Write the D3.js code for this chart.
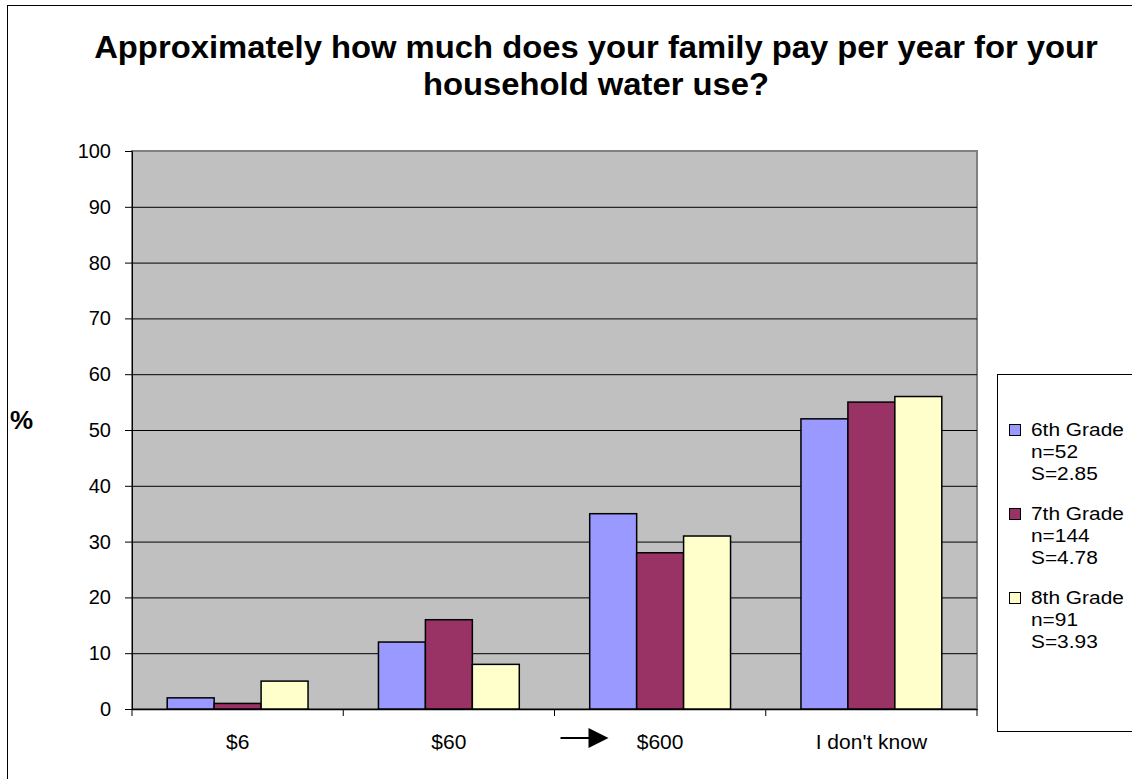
<!DOCTYPE html>
<html><head><meta charset="utf-8">
<script src="https://cdn.jsdelivr.net/npm/d3@7"></script>
<style>body{margin:0;background:#fff}svg{display:block}text{font-family:"Liberation Sans",Arial,sans-serif}</style>
</head><body>
<script>
const categories = ["$6", "$60", "$600", "I don't know"];
const seriesNames = ["6th Grade", "7th Grade", "8th Grade"];
const seriesNotes = [["n=52", "S=2.85"], ["n=144", "S=4.78"], ["n=91", "S=3.93"]];
const grade6 = [2, 12, 35, 52];
const grade7 = [1, 16, 28, 55];
const grade8 = [5, 8, 31, 56];
const yTicks = [0, 10, 20, 30, 40, 50, 60, 70, 80, 90, 100];
const colors = ["#9999FF", "#993366", "#FFFFCC"];
const titleLines = ["Approximately how much does your family pay per year for your", "household water use?"];

const W = 1132, H = 779;
const svg = d3.select("body").append("svg").attr("width", W).attr("height", H);
svg.append("rect").attr("x", 7.5).attr("y", 5.5).attr("width", 1200).attr("height", 900)
  .attr("fill", "#fff").attr("stroke", "#000").attr("stroke-width", 1);

const plot = {l: 132, r: 977, t: 151, b: 709};
const x = d3.scaleBand().domain(categories).range([plot.l, plot.r]).paddingInner(0).paddingOuter(0);
const x1 = d3.scaleBand().domain(seriesNames).range([0, x.bandwidth()]).paddingInner(0).paddingOuter(0.75);
const y = d3.scaleLinear().domain([0, 100]).range([plot.b, plot.t]);

svg.append("rect").attr("x", plot.l).attr("y", plot.t).attr("width", plot.r - plot.l).attr("height", plot.b - plot.t)
  .attr("fill", "#C0C0C0").attr("stroke", "#808080").attr("stroke-width", 2);

// gridlines
svg.append("g").selectAll("line").data(yTicks.filter(d => d > 0 && d < 100)).join("line")
  .attr("x1", plot.l).attr("x2", plot.r).attr("y1", d => y(d) + 0.5).attr("y2", d => y(d) + 0.5)
  .attr("stroke", "#000").attr("stroke-width", 1);

// y axis
const yAxis = d3.axisLeft(y).tickValues(yTicks).tickSize(7).tickPadding(14).tickFormat(d3.format("d"));
const gy = svg.append("g").attr("transform", `translate(${plot.l},0)`).call(yAxis);
gy.select(".domain").attr("stroke", "#000");
gy.selectAll("text").attr("font-size", 20).attr("fill", "#000").attr("font-family", "Liberation Sans, Arial, sans-serif");

// x axis
const xAxis = d3.axisBottom(x).tickSize(0).tickPadding(25);
const gx = svg.append("g").attr("transform", `translate(0,${plot.b})`).call(xAxis);
gx.select(".domain").attr("stroke", "#000").attr("stroke-width", 1.5);
gx.selectAll("text").attr("font-size", 21).attr("fill", "#000").attr("font-family", "Liberation Sans, Arial, sans-serif");
// category boundary ticks
svg.append("g").selectAll("line").data(categories.concat(["__end"])).join("line")
  .attr("x1", (d, i) => plot.l + i * x.bandwidth()).attr("x2", (d, i) => plot.l + i * x.bandwidth())
  .attr("y1", plot.b).attr("y2", plot.b + 7).attr("stroke", "#000");

// bars
const series = [grade6, grade7, grade8];
const groups = svg.append("g").selectAll("g").data(categories).join("g")
  .attr("transform", d => `translate(${x(d)},0)`);
groups.selectAll("rect").data((c, ci) => series.map((s, si) => ({name: seriesNames[si], v: s[ci], si})))
  .join("rect")
  .attr("x", d => x1(d.name)).attr("width", x1.bandwidth())
  .attr("y", d => y(d.v)).attr("height", d => y(0) - y(d.v))
  .attr("fill", d => colors[d.si]).attr("stroke", "#000").attr("stroke-width", 1.5);

// arrow near $600
const ax = x("$600");
svg.append("line").attr("x1", ax + 6).attr("x2", ax + 36).attr("y1", 738).attr("y2", 738)
  .attr("stroke", "#000").attr("stroke-width", 2);
svg.append("path").attr("d", `M${ax + 34},728 L${ax + 54},738 L${ax + 34},748 Z`).attr("fill", "#000");

// title
svg.append("g").attr("transform", "translate(596,0) scale(1.075,1)")
  .append("text").attr("x", 0).attr("y", 58).attr("text-anchor", "middle")
  .attr("font-size", 30.5).attr("font-weight", "bold")
  .selectAll("tspan").data(titleLines).join("tspan")
  .attr("x", 0).attr("dy", (d, i) => i === 0 ? 0 : 37).text(d => d);

// y label
svg.append("text").attr("x", 10).attr("y", 429).attr("font-size", 26).attr("font-weight", "bold").text("%");

// legend
svg.append("rect").attr("x", 997.5).attr("y", 374.5).attr("width", 200).attr("height", 357)
  .attr("fill", "#fff").attr("stroke", "#000").attr("stroke-width", 1);
const lg = svg.append("g").selectAll("g").data(seriesNames).join("g")
  .attr("transform", (d, i) => `translate(1009,${436 + i * 84})`);
lg.append("rect").attr("x", 0.5).attr("y", -11.5).attr("width", 11).attr("height", 11)
  .attr("fill", (d, i) => colors[i]).attr("stroke", "#000").attr("stroke-width", 1);
lg.append("g").attr("transform", "translate(22,0) scale(1.13,1)")
  .append("text").attr("x", 0).attr("y", 0).attr("font-size", 18.5)
  .selectAll("tspan").data((d, i) => [d].concat(seriesNotes[i])).join("tspan")
  .attr("x", 0).attr("dy", (d, i) => i === 0 ? 0 : 22).text(d => d);
</script>
</body></html>
